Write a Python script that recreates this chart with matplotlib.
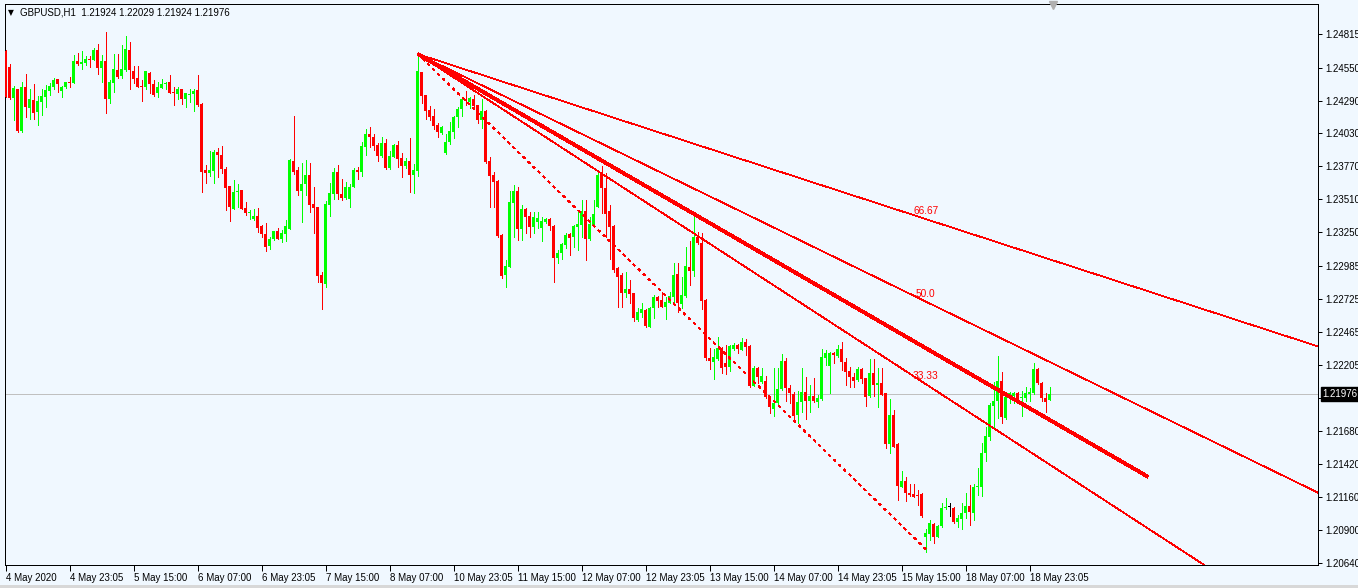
import matplotlib
matplotlib.use("Agg")
import matplotlib.pyplot as plt
from matplotlib.lines import Line2D
from matplotlib.patches import Rectangle
import numpy as np

header = "GBPUSD,H1  1.21924 1.22029 1.21924 1.21976"

opens = [
1.24683,1.24557,1.24312,1.24380,1.24052,1.24394,1.24233,1.24294,1.24202,1.24281,
1.24320,1.24365,1.24394,1.24457,1.24365,1.24394,1.24438,1.24428,1.24599,1.24580,
1.24588,1.24617,1.24612,1.24688,1.24549,1.24601,1.24304,1.24430,1.24530,1.24486,
1.24530,1.24688,1.24523,1.24465,1.24404,1.24399,1.24509,1.24420,1.24346,1.24391,
1.24417,1.24438,1.24359,1.24341,1.24380,1.24302,1.24336,1.24338,1.24373,1.24262,
1.23741,1.23720,1.23734,1.23883,1.23860,1.23747,1.23615,1.23436,1.23568,1.23584,
1.23439,1.23405,1.23355,1.23378,1.23300,1.23236,1.23142,1.23194,1.23260,1.23200,
1.23236,1.23278,1.23810,1.23741,1.23578,1.23631,1.23702,1.23473,1.23452,1.22913,
1.22842,1.23468,1.23552,1.23726,1.23552,1.23520,1.23515,1.23610,1.23741,1.23728,
1.23925,1.24023,1.24004,1.23941,1.23854,1.23954,1.23757,1.23846,1.23939,1.23839,
1.23773,1.23815,1.23702,1.23736,1.24517,1.24333,1.24215,1.24167,1.24096,1.24036,
1.23873,1.23960,1.24044,1.24157,1.24220,1.24304,1.24278,1.24299,1.24252,1.24136,
1.24207,1.23812,1.23702,1.23655,1.23228,1.22913,1.22979,1.23484,1.23576,1.23276,
1.23434,1.23378,1.23294,1.23335,1.23287,1.23335,1.23356,1.23300,1.23051,1.23085,
1.23150,1.23237,1.23211,1.23290,1.23308,1.23419,1.23198,1.23300,1.23453,1.23711,
1.23598,1.23419,1.23300,1.22972,1.22914,1.22769,1.22801,1.22769,1.22559,1.22611,
1.22638,1.22506,1.22656,1.22743,1.22716,1.22664,1.22695,1.22743,1.22919,1.22685,
1.22748,1.22979,1.22948,1.23216,1.23164,1.22716,1.22259,1.22227,1.22251,1.22333,
1.22222,1.22190,1.22327,1.22361,1.22322,1.22382,1.22354,1.22038,1.22177,1.22072,
1.22080,1.21949,1.21859,1.21901,1.22012,1.22235,1.22025,1.21975,1.21809,1.21914,
1.21992,1.21921,1.21958,1.21914,1.21935,1.22255,1.22195,1.22300,1.22274,1.22326,
1.22229,1.22156,1.22111,1.22084,1.22171,1.22098,1.21958,1.22142,1.22045,1.22058,
1.21979,1.21580,1.21808,1.21580,1.21243,1.21290,1.21196,1.21185,1.21177,1.21182,
1.20843,1.20869,1.20948,1.20848,1.20935,1.21072,1.21085,1.21077,1.20967,1.20988,
1.21032,1.21093,1.21038,1.21238,1.21243,1.21511,1.21637,1.21882,1.21919,1.22077,
1.21782,1.21940,1.21958,1.21985,1.21940,1.21940,1.21974,1.21979,1.22171,1.22063,
1.21945,1.21924]

highs = [
1.24688,1.24578,1.24404,1.24380,1.24436,1.24499,1.24378,1.24420,1.24325,1.24378,
1.24412,1.24430,1.24470,1.24457,1.24404,1.24438,1.24475,1.24649,1.24662,1.24678,
1.24641,1.24641,1.24704,1.24736,1.24646,1.24830,1.24451,1.24657,1.24657,1.24728,
1.24799,1.24751,1.24562,1.24562,1.24451,1.24523,1.24515,1.24451,1.24438,1.24457,
1.24438,1.24491,1.24399,1.24394,1.24383,1.24352,1.24378,1.24383,1.24491,1.24270,
1.23781,1.23891,1.23899,1.23918,1.23931,1.23762,1.23615,1.23662,1.23631,1.23584,
1.23492,1.23426,1.23434,1.23439,1.23307,1.23326,1.23215,1.23260,1.23281,1.23268,
1.23347,1.23831,1.24167,1.23768,1.23794,1.23820,1.23799,1.23605,1.23452,1.22939,
1.23497,1.23636,1.23760,1.23778,1.23668,1.23649,1.23631,1.23754,1.23762,1.23965,
1.24065,1.24078,1.24023,1.23952,1.23999,1.23989,1.23891,1.23946,1.23970,1.23873,
1.23839,1.23994,1.23789,1.24662,1.24517,1.24333,1.24246,1.24223,1.24109,1.24088,
1.24023,1.24123,1.24167,1.24241,1.24307,1.24365,1.24315,1.24333,1.24254,1.24299,
1.24215,1.23841,1.23728,1.23662,1.23236,1.23031,1.23578,1.23623,1.23610,1.23465,
1.23444,1.23413,1.23413,1.23413,1.23374,1.23361,1.23361,1.23308,1.23111,1.23169,
1.23248,1.23242,1.23308,1.23419,1.23505,1.23505,1.23374,1.23505,1.23737,1.23774,
1.23716,1.23466,1.23308,1.22979,1.22927,1.22940,1.22874,1.22774,1.22651,1.22690,
1.22643,1.22659,1.22756,1.22748,1.22782,1.22738,1.22782,1.23006,1.23006,1.22901,
1.23137,1.23185,1.23395,1.23256,1.23242,1.22722,1.22333,1.22327,1.22427,1.22348,
1.22361,1.22361,1.22375,1.22367,1.22414,1.22406,1.22359,1.22196,1.22190,1.22177,
1.22112,1.21954,1.22177,1.22177,1.22290,1.22256,1.22046,1.21993,1.22001,1.22177,
1.22111,1.22045,1.22103,1.21966,1.22326,1.22321,1.22308,1.22308,1.22361,1.22387,
1.22255,1.22190,1.22137,1.22184,1.22177,1.22103,1.22248,1.22248,1.22177,1.22182,
1.21985,1.21935,1.21848,1.21585,1.21369,1.21322,1.21264,1.21264,1.21217,1.21190,
1.20909,1.20980,1.20954,1.20940,1.21117,1.21151,1.21117,1.21085,1.21019,1.21111,
1.21190,1.21256,1.21264,1.21393,1.21585,1.21716,1.21906,1.22071,1.22276,1.22150,
1.21992,1.21992,1.21992,1.21992,1.22000,1.22027,1.22019,1.22216,1.22177,1.22071,
1.21979,1.22029]

lows = [
1.24320,1.24302,1.24136,1.24044,1.24044,1.24162,1.24144,1.24144,1.24099,1.24178,
1.24241,1.24333,1.24380,1.24354,1.24320,1.24386,1.24399,1.24425,1.24572,1.24538,
1.24572,1.24557,1.24609,1.24499,1.24438,1.24194,1.24273,1.24359,1.24470,1.24470,
1.24525,1.24383,1.24430,1.24394,1.24288,1.24383,1.24352,1.24328,1.24320,1.24386,
1.24380,1.24346,1.24257,1.24302,1.24262,1.24241,1.24281,1.24207,1.24249,1.23568,
1.23641,1.23694,1.23641,1.23689,1.23720,1.23426,1.23342,1.23431,1.23452,1.23433,
1.23386,1.23355,1.23347,1.23255,1.23215,1.23100,1.23115,1.23189,1.23194,1.23176,
1.23184,1.23276,1.23710,1.23544,1.23331,1.23544,1.23413,1.23247,1.22860,1.22645,
1.22816,1.23378,1.23510,1.23515,1.23505,1.23515,1.23452,1.23605,1.23670,1.23694,
1.23860,1.23925,1.23899,1.23815,1.23846,1.23752,1.23752,1.23841,1.23768,1.23689,
1.23754,1.23568,1.23557,1.23694,1.24273,1.24144,1.24136,1.24062,1.24004,1.24025,
1.23868,1.23946,1.23991,1.24083,1.24167,1.24254,1.24233,1.24228,1.24115,1.24075,
1.23799,1.23452,1.23452,1.23210,1.22887,1.22816,1.22973,1.23215,1.23189,1.23189,
1.23242,1.23210,1.23247,1.23287,1.23185,1.23327,1.23269,1.22861,1.23006,1.23037,
1.23124,1.23072,1.23137,1.23111,1.23211,1.23032,1.23190,1.23290,1.23448,1.23400,
1.23216,1.23037,1.22940,1.22664,1.22664,1.22743,1.22695,1.22546,1.22546,1.22585,
1.22506,1.22501,1.22572,1.22664,1.22659,1.22564,1.22690,1.22690,1.22624,1.22651,
1.22743,1.22837,1.22906,1.23158,1.22643,1.22243,1.22172,1.22091,1.22243,1.22143,
1.22133,1.22159,1.22322,1.22296,1.22322,1.22283,1.22027,1.22033,1.22059,1.22059,
1.21941,1.21822,1.21804,1.21896,1.22006,1.21922,1.21901,1.21770,1.21743,1.21835,
1.21777,1.21835,1.21914,1.21874,1.21927,1.22203,1.21985,1.22221,1.22269,1.22163,
1.22045,1.22027,1.22032,1.22079,1.22058,1.21879,1.21953,1.21961,1.21874,1.21966,
1.21545,1.21506,1.21553,1.21138,1.21238,1.21132,1.21172,1.21159,1.21098,1.21006,
1.20730,1.20822,1.20796,1.20843,1.20927,1.21067,1.21014,1.20959,1.20927,1.20909,
1.20993,1.20940,1.20980,1.21177,1.21172,1.21445,1.21611,1.21711,1.21782,1.21743,
1.21777,1.21906,1.21906,1.21914,1.21800,1.21921,1.21919,1.21974,1.22053,1.21921,
1.21835,1.21924]

closes = [
1.24320,1.24307,1.24386,1.24049,1.24394,1.24241,1.24299,1.24194,1.24283,1.24325,
1.24373,1.24404,1.24451,1.24420,1.24394,1.24433,1.24430,1.24599,1.24578,1.24594,
1.24615,1.24612,1.24688,1.24549,1.24601,1.24304,1.24438,1.24538,1.24478,1.24538,
1.24696,1.24530,1.24462,1.24399,1.24399,1.24523,1.24420,1.24333,1.24394,1.24420,
1.24430,1.24352,1.24346,1.24378,1.24302,1.24346,1.24341,1.24365,1.24254,1.23728,
1.23720,1.23741,1.23886,1.23857,1.23747,1.23602,1.23447,1.23570,1.23576,1.23436,
1.23405,1.23413,1.23378,1.23286,1.23234,1.23136,1.23194,1.23260,1.23200,1.23247,
1.23299,1.23820,1.23726,1.23578,1.23631,1.23702,1.23465,1.23444,1.22905,1.22852,
1.23473,1.23557,1.23726,1.23552,1.23520,1.23610,1.23610,1.23741,1.23728,1.23931,
1.24023,1.24004,1.23931,1.23854,1.23954,1.23757,1.23854,1.23939,1.23831,1.23773,
1.23815,1.23702,1.23741,1.24522,1.24328,1.24209,1.24162,1.24091,1.24044,1.24083,
1.23962,1.24052,1.24159,1.24223,1.24299,1.24283,1.24309,1.24249,1.24136,1.24207,
1.23807,1.23697,1.23649,1.23221,1.22905,1.22984,1.23491,1.23576,1.23276,1.23431,
1.23373,1.23294,1.23373,1.23361,1.23340,1.23356,1.23300,1.23051,1.23090,1.23156,
1.23229,1.23208,1.23300,1.23316,1.23419,1.23198,1.23316,1.23392,1.23703,1.23598,
1.23395,1.23295,1.22953,1.22901,1.22769,1.22801,1.22764,1.22577,1.22624,1.22645,
1.22511,1.22656,1.22743,1.22711,1.22664,1.22698,1.22748,1.22914,1.22695,1.22753,
1.22985,1.22948,1.23216,1.23164,1.22711,1.22254,1.22238,1.22264,1.22333,1.22177,
1.22185,1.22354,1.22361,1.22327,1.22382,1.22348,1.22038,1.22175,1.22104,1.22117,
1.21949,1.21870,1.21901,1.22012,1.22235,1.22020,1.21980,1.21801,1.21914,1.21992,
1.21921,1.21958,1.21921,1.21940,1.22269,1.22300,1.22300,1.22279,1.22326,1.22229,
1.22145,1.22111,1.22079,1.22171,1.22090,1.21953,1.22142,1.22045,1.22058,1.21966,
1.21580,1.21808,1.21558,1.21248,1.21290,1.21190,1.21177,1.21164,1.21169,1.21014,
1.20875,1.20954,1.20848,1.20935,1.21077,1.21080,1.21085,1.20967,1.20993,1.21038,
1.21093,1.21040,1.21243,1.21243,1.21511,1.21643,1.21887,1.21919,1.22077,1.21790,
1.21953,1.21979,1.21985,1.21921,1.21945,1.21979,1.21992,1.22171,1.22058,1.21940,
1.21914,1.21976]

xtick_pos = [0, 16, 32, 48, 64, 80, 96, 112, 128, 144, 160, 176, 192, 208, 224, 240, 256]
xtick_labels = ["4 May 2020", "4 May 23:05", "5 May 15:00", "6 May 07:00", "6 May 23:05",
                "7 May 15:00", "8 May 07:00", "10 May 23:05", "11 May 15:00", "12 May 07:00",
                "12 May 23:05", "13 May 15:00", "14 May 07:00", "14 May 23:05", "15 May 15:00",
                "18 May 07:00", "18 May 23:05"]
ytick_values = [1.24815, 1.24550, 1.24290, 1.24030, 1.23770, 1.23510, 1.23250, 1.22985,
                1.22725, 1.22465, 1.22205, 1.21945, 1.21680, 1.21420, 1.21160, 1.20900, 1.20640]
last_price = 1.21976

fan_start_bar, fan_start_price = 103, 1.24657
fan_end_bar, fan_end_price = 230, 1.20750
fan_levels = [33.33, 50.0, 66.67]
fan_level_labels = ["33.33", "50.0", "66.67"]
trend_end_bar, trend_end_price = 285.6, 1.21320

# ---- styling ----
BG = "#F0F8FF"
BULL = "#00FF00"
BEAR = "#FF0000"
DOJI = "#000000"
FAN = "#FF0000"
W, H = 1358, 588
PX = 72.0 / 100.0   # one pixel in points

fig = plt.figure(figsize=(W / 100, H / 100), dpi=100, facecolor=BG)
ax = fig.add_axes([5 / W, 23 / H, (1318 - 5) / W, (565 - 4) / H])
ax.set_facecolor(BG)
ax.set_xlim(-0.175, 328.075)
ax.set_ylim(1.20624, 1.25052)

o = np.array(opens); h = np.array(highs); l = np.array(lows); c = np.array(closes)
x = np.arange(len(o))
cols = np.where(c > o, BULL, np.where(c < o, BEAR, DOJI))
one_px = (1.25052 - 1.20624) / 561.0

# current price line (behind candles)
ax.axhline(last_price, color="#C0C0C0", lw=PX, antialiased=False, zorder=1)

ax.vlines(x, l, h, colors=cols, lw=PX, antialiased=False, zorder=3)
ax.bar(x, np.maximum(np.abs(c - o), one_px), bottom=np.minimum(o, c), width=0.75,
       color=cols, linewidth=0, antialiased=False, zorder=4)

# fibonacci fan
rng = fan_start_price - fan_end_price
far_bar = 340
for lev, lab in zip(fan_levels, fan_level_labels):
    p_at_end = fan_end_price + lev / 100.0 * rng
    slope = (p_at_end - fan_start_price) / (fan_end_bar - fan_start_bar)
    ax.plot([fan_start_bar, far_bar],
            [fan_start_price, fan_start_price + slope * (far_bar - fan_start_bar)],
            color=FAN, lw=0.5, antialiased=False, zorder=5)
    ax.annotate(lab, xy=(fan_end_bar, p_at_end), xytext=(0, 2), textcoords="offset points",
                ha="center", va="bottom", color=FAN, fontsize=7.3, family="Liberation Sans",
                zorder=6)
ax.plot([fan_start_bar, fan_end_bar], [fan_start_price, fan_end_price], color=FAN,
        lw=0.5, dashes=(4, 7), antialiased=False, zorder=5)
# thick trend line
ax.plot([fan_start_bar, trend_end_bar], [fan_start_price, trend_end_price], color=FAN,
        lw=2.0, solid_capstyle="butt", antialiased=False, zorder=5)

# axes / ticks
for s in ax.spines.values():
    s.set_color("black")
    s.set_linewidth(PX)
ax.yaxis.tick_right()
ax.set_yticks(ytick_values)
ax.set_yticklabels([f"{v:.5f}" for v in ytick_values])
ax.set_xticks(xtick_pos)
ax.set_xticklabels(xtick_labels)
ax.tick_params(axis="y", direction="out", length=3 * PX * 100 / 72, width=PX, pad=2,
               labelsize=7, colors="black")
ax.tick_params(axis="x", direction="out", length=4, width=PX, pad=1.5,
               labelsize=7, colors="black")
for t in ax.get_xticklabels() + ax.get_yticklabels():
    t.set_family("Liberation Sans")
for t in ax.get_xticklabels():
    t.set_horizontalalignment("left")

# price label box
ax.annotate(f"{last_price:.5f}", xy=(1, last_price), xycoords=("axes fraction", "data"),
            xytext=(3.3, 0), textcoords="offset points", ha="left", va="center",
            color="white", fontsize=7, family="Liberation Sans",
            bbox=dict(boxstyle="square,pad=0.2", fc="black", ec="black"),
            annotation_clip=False, zorder=10)

# header
fig.text(8 / W, 1 - 12.5 / H, "\u25BC", family="DejaVu Sans", fontsize=5.5,
         va="center", ha="left", color="black")
fig.text(20 / W, 1 - 12.5 / H, header, family="Liberation Sans", fontsize=7,
         va="center", ha="left", color="black")

# chart shift marker
fig.add_artist(Line2D([1053 / W], [1 - 5 / H], marker="v", markersize=6,
                      color="#B0B0B0", transform=fig.transFigure))
# window frame bits
fig.add_artist(Rectangle((0, 0), 1, 3 / H, transform=fig.transFigure,
                         facecolor="#D8D8D8", edgecolor="none"))

fig.savefig("out.png", dpi=100, facecolor=BG)
